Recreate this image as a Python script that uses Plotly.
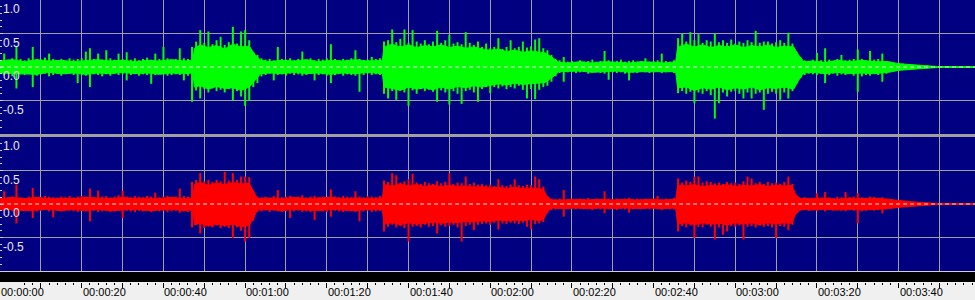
import plotly.graph_objects as go

# ---- data: peak envelope of each channel, one value per second (t = 0 .. 238 s) ----
left_hi = [
    0.10,0.20,0.11,0.13,0.30,0.12,0.10,0.13,0.30,0.12,
    0.11,0.14,0.20,0.12,0.10,0.12,0.09,0.13,0.11,0.12,
    0.13,0.23,0.28,0.12,0.20,0.11,0.25,0.13,0.11,0.20,
    0.12,0.22,0.11,0.13,0.10,0.12,0.14,0.11,0.20,0.12,
    0.30,0.13,0.11,0.12,0.28,0.13,0.12,0.30,0.38,0.55,
    0.36,0.53,0.34,0.40,0.45,0.33,0.37,0.60,0.35,0.53,
    0.55,0.40,0.22,0.18,0.13,0.11,0.12,0.10,0.30,0.12,
    0.11,0.13,0.10,0.12,0.23,0.11,0.13,0.10,0.12,0.11,
    0.13,0.34,0.12,0.10,0.12,0.11,0.13,0.25,0.12,0.10,
    0.11,0.15,0.12,0.13,0.38,0.40,0.56,0.37,0.42,0.56,
    0.36,0.55,0.38,0.35,0.40,0.34,0.38,0.54,0.36,0.40,
    0.48,0.35,0.37,0.34,0.52,0.36,0.33,0.38,0.30,0.35,
    0.28,0.30,0.43,0.27,0.30,0.40,0.28,0.30,0.38,0.29,
    0.31,0.41,0.43,0.28,0.25,0.18,0.12,0.10,0.15,0.08,
    0.09,0.07,0.10,0.08,0.09,0.11,0.08,0.09,0.24,0.10,
    0.08,0.09,0.11,0.08,0.09,0.10,0.08,0.09,0.13,0.08,
    0.09,0.10,0.20,0.09,0.08,0.10,0.43,0.50,0.38,0.52,
    0.40,0.49,0.36,0.40,0.38,0.50,0.37,0.40,0.36,0.41,
    0.35,0.38,0.36,0.40,0.37,0.54,0.36,0.38,0.38,0.35,
    0.37,0.40,0.36,0.51,0.35,0.22,0.14,0.10,0.09,0.11,
    0.21,0.10,0.28,0.11,0.09,0.12,0.18,0.10,0.11,0.12,
    0.26,0.12,0.10,0.24,0.11,0.12,0.20,0.09,0.07,0.06,
    0.06,0.05,0.04,0.035,0.03,0.025,0.02,0.02,0.015,0.01,
    0.008,0.008,0.008,0.008,0.008,0.008,0.008,0.008,0.008,
]
left_lo = [
    -0.09,-0.12,-0.10,-0.14,-0.32,-0.11,-0.12,-0.10,-0.30,-0.13,
    -0.11,-0.10,-0.14,-0.12,-0.10,-0.13,-0.11,-0.10,-0.12,-0.24,
    -0.12,-0.13,-0.30,-0.11,-0.12,-0.14,-0.11,-0.13,-0.10,-0.12,
    -0.11,-0.20,-0.12,-0.10,-0.13,-0.11,-0.12,-0.25,-0.12,-0.10,
    -0.11,-0.13,-0.12,-0.11,-0.12,-0.20,-0.13,-0.52,-0.35,-0.47,
    -0.33,-0.38,-0.32,-0.36,-0.34,-0.38,-0.33,-0.50,-0.36,-0.44,
    -0.58,-0.50,-0.30,-0.24,-0.14,-0.12,-0.10,-0.20,-0.12,-0.11,
    -0.13,-0.10,-0.12,-0.11,-0.13,-0.12,-0.10,-0.20,-0.12,-0.11,
    -0.13,-0.24,-0.12,-0.10,-0.13,-0.11,-0.12,-0.13,-0.37,-0.12,
    -0.10,-0.12,-0.11,-0.12,-0.40,-0.47,-0.36,-0.49,-0.34,-0.38,
    -0.58,-0.35,-0.40,-0.33,-0.36,-0.34,-0.37,-0.52,-0.35,-0.38,
    -0.56,-0.36,-0.40,-0.55,-0.36,-0.34,-0.38,-0.52,-0.33,-0.30,
    -0.39,-0.30,-0.32,-0.29,-0.33,-0.30,-0.32,-0.28,-0.34,-0.47,
    -0.33,-0.48,-0.34,-0.30,-0.28,-0.22,-0.14,-0.09,-0.22,-0.08,
    -0.07,-0.09,-0.08,-0.07,-0.10,-0.08,-0.07,-0.09,-0.10,-0.19,
    -0.08,-0.09,-0.08,-0.10,-0.20,-0.08,-0.09,-0.07,-0.08,-0.09,
    -0.08,-0.07,-0.09,-0.08,-0.07,-0.09,-0.39,-0.36,-0.40,-0.37,
    -0.54,-0.38,-0.40,-0.36,-0.42,-0.77,-0.54,-0.38,-0.44,-0.37,
    -0.36,-0.40,-0.47,-0.38,-0.47,-0.40,-0.38,-0.64,-0.40,-0.37,
    -0.40,-0.49,-0.38,-0.47,-0.36,-0.25,-0.16,-0.12,-0.10,-0.11,
    -0.12,-0.10,-0.24,-0.12,-0.10,-0.13,-0.11,-0.12,-0.10,-0.13,
    -0.37,-0.14,-0.12,-0.13,-0.10,-0.12,-0.22,-0.10,-0.06,-0.05,
    -0.05,-0.04,-0.035,-0.03,-0.025,-0.02,-0.02,-0.015,-0.01,-0.01,
    -0.008,-0.008,-0.008,-0.008,-0.008,-0.008,-0.008,-0.008,-0.008,
]
right_hi = [
    0.09,0.19,0.10,0.11,0.29,0.10,0.09,0.11,0.24,0.10,
    0.10,0.12,0.11,0.10,0.09,0.11,0.10,0.12,0.10,0.11,
    0.12,0.11,0.23,0.10,0.20,0.11,0.12,0.10,0.11,0.13,
    0.20,0.11,0.10,0.12,0.11,0.10,0.12,0.11,0.17,0.10,
    0.11,0.12,0.10,0.11,0.23,0.12,0.11,0.33,0.36,0.46,
    0.34,0.36,0.33,0.36,0.34,0.48,0.35,0.46,0.36,0.41,
    0.41,0.40,0.20,0.11,0.10,0.11,0.09,0.12,0.21,0.10,
    0.11,0.12,0.10,0.11,0.13,0.10,0.11,0.12,0.10,0.11,
    0.10,0.22,0.11,0.10,0.12,0.11,0.10,0.19,0.11,0.10,
    0.12,0.11,0.10,0.12,0.35,0.33,0.46,0.43,0.32,0.34,
    0.37,0.45,0.32,0.30,0.33,0.31,0.30,0.34,0.31,0.33,
    0.46,0.30,0.32,0.31,0.41,0.30,0.32,0.29,0.30,0.28,
    0.29,0.27,0.37,0.28,0.27,0.29,0.37,0.28,0.27,0.29,
    0.28,0.41,0.37,0.26,0.12,0.08,0.07,0.08,0.21,0.07,
    0.08,0.06,0.08,0.07,0.09,0.07,0.08,0.07,0.19,0.08,
    0.07,0.08,0.07,0.08,0.09,0.07,0.08,0.07,0.08,0.07,
    0.08,0.12,0.07,0.08,0.07,0.09,0.38,0.32,0.35,0.33,
    0.41,0.41,0.32,0.34,0.33,0.31,0.32,0.30,0.33,0.31,
    0.32,0.30,0.34,0.41,0.38,0.31,0.33,0.30,0.33,0.31,
    0.32,0.30,0.33,0.41,0.30,0.12,0.09,0.10,0.08,0.09,
    0.16,0.09,0.18,0.10,0.09,0.11,0.10,0.18,0.10,0.11,
    0.16,0.10,0.09,0.11,0.10,0.09,0.10,0.08,0.06,0.05,
    0.05,0.04,0.035,0.03,0.03,0.025,0.02,0.015,0.015,0.01,
    0.008,0.008,0.008,0.008,0.008,0.008,0.008,0.008,0.008,
]
right_lo = [
    -0.08,-0.10,-0.09,-0.11,-0.29,-0.10,-0.09,-0.10,-0.21,-0.11,
    -0.10,-0.09,-0.11,-0.20,-0.10,-0.11,-0.09,-0.10,-0.11,-0.12,
    -0.10,-0.11,-0.26,-0.10,-0.12,-0.11,-0.10,-0.12,-0.11,-0.10,
    -0.21,-0.10,-0.11,-0.12,-0.10,-0.11,-0.09,-0.12,-0.10,-0.11,
    -0.10,-0.12,-0.11,-0.10,-0.13,-0.11,-0.12,-0.35,-0.30,-0.44,
    -0.36,-0.33,-0.35,-0.32,-0.36,-0.34,-0.36,-0.51,-0.35,-0.40,
    -0.56,-0.51,-0.25,-0.12,-0.11,-0.10,-0.12,-0.10,-0.11,-0.12,
    -0.10,-0.21,-0.11,-0.10,-0.12,-0.11,-0.12,-0.24,-0.10,-0.11,
    -0.12,-0.19,-0.10,-0.11,-0.12,-0.10,-0.11,-0.12,-0.26,-0.11,
    -0.10,-0.12,-0.11,-0.10,-0.41,-0.34,-0.31,-0.35,-0.33,-0.36,
    -0.56,-0.34,-0.33,-0.35,-0.31,-0.34,-0.33,-0.44,-0.32,-0.34,
    -0.33,-0.31,-0.35,-0.56,-0.33,-0.31,-0.39,-0.31,-0.30,-0.29,
    -0.31,-0.28,-0.38,-0.29,-0.30,-0.28,-0.29,-0.30,-0.28,-0.34,
    -0.38,-0.30,-0.29,-0.27,-0.13,-0.09,-0.08,-0.07,-0.19,-0.08,
    -0.07,-0.08,-0.07,-0.08,-0.07,-0.09,-0.07,-0.08,-0.14,-0.08,
    -0.07,-0.09,-0.07,-0.08,-0.13,-0.08,-0.07,-0.08,-0.07,-0.08,
    -0.07,-0.08,-0.09,-0.07,-0.08,-0.08,-0.41,-0.33,-0.35,-0.32,
    -0.51,-0.34,-0.35,-0.31,-0.34,-0.53,-0.35,-0.46,-0.41,-0.33,
    -0.34,-0.32,-0.53,-0.34,-0.33,-0.35,-0.32,-0.34,-0.33,-0.35,
    -0.51,-0.33,-0.34,-0.39,-0.31,-0.14,-0.10,-0.09,-0.10,-0.09,
    -0.10,-0.09,-0.11,-0.09,-0.10,-0.09,-0.10,-0.11,-0.09,-0.10,
    -0.29,-0.11,-0.10,-0.09,-0.10,-0.09,-0.14,-0.08,-0.06,-0.05,
    -0.05,-0.04,-0.035,-0.03,-0.025,-0.02,-0.02,-0.015,-0.01,-0.01,
    -0.008,-0.008,-0.008,-0.008,-0.008,-0.008,-0.008,-0.008,-0.008,
]
for arr in (left_hi, left_lo, right_hi, right_lo):
    assert len(arr) == 239, len(arr)

# ---- dense body (core) of each channel, read at breakpoints: (seconds, upper, lower) ----
left_core = [
    (0, 0.09, -0.09), (3, 0.11, -0.10), (6, 0.08, -0.10), (9, 0.11, -0.11), (12, 0.09, -0.08),
    (15, 0.10, -0.10), (18, 0.08, -0.09), (21, 0.10, -0.11), (24, 0.11, -0.09), (27, 0.09, -0.10),
    (30, 0.10, -0.08), (33, 0.08, -0.10), (36, 0.10, -0.09), (39, 0.09, -0.11), (42, 0.11, -0.09),
    (45, 0.09, -0.10), (47.2, 0.10, -0.09),
    (47.6, 0.28, -0.30), (49, 0.33, -0.28), (51, 0.29, -0.33), (53, 0.32, -0.29), (55, 0.27, -0.32),
    (57, 0.34, -0.31), (59, 0.30, -0.35), (61, 0.31, -0.30), (62.5, 0.18, -0.20), (63.8, 0.10, -0.10),
    (66, 0.08, -0.09), (69, 0.10, -0.10), (72, 0.09, -0.08), (75, 0.11, -0.10), (78, 0.08, -0.09),
    (81, 0.10, -0.11), (84, 0.09, -0.09), (87, 0.11, -0.10), (90, 0.09, -0.08), (93.6, 0.10, -0.10),
    (94, 0.30, -0.30), (96, 0.34, -0.32), (98, 0.30, -0.35), (100, 0.33, -0.30), (102, 0.29, -0.33),
    (104, 0.32, -0.31), (106, 0.30, -0.34), (108, 0.33, -0.30), (110, 0.29, -0.33), (112, 0.31, -0.29),
    (114, 0.28, -0.31), (116, 0.30, -0.28), (118, 0.27, -0.30), (120, 0.25, -0.27), (122, 0.27, -0.25),
    (124, 0.23, -0.27), (126, 0.25, -0.24), (128, 0.22, -0.26), (130, 0.24, -0.25), (132, 0.22, -0.24),
    (133.5, 0.21, -0.23), (135.5, 0.13, -0.14), (136.8, 0.07, -0.07),
    (139, 0.06, -0.07), (142, 0.08, -0.06), (145, 0.06, -0.08), (148, 0.08, -0.07), (151, 0.07, -0.06),
    (154, 0.06, -0.08), (157, 0.08, -0.07), (160, 0.07, -0.06), (163, 0.06, -0.07), (165.4, 0.08, -0.07),
    (165.9, 0.30, -0.31), (168, 0.34, -0.30), (170, 0.30, -0.35), (172, 0.33, -0.31), (174, 0.29, -0.33),
    (176, 0.32, -0.30), (178, 0.30, -0.34), (180, 0.33, -0.31), (182, 0.29, -0.33), (184, 0.32, -0.30),
    (186, 0.30, -0.34), (188, 0.33, -0.31), (190, 0.29, -0.32), (192, 0.31, -0.30), (194.3, 0.30, -0.33),
    (195.5, 0.18, -0.20), (196.8, 0.08, -0.09),
    (199, 0.09, -0.08), (202, 0.07, -0.10), (205, 0.10, -0.08), (208, 0.08, -0.10), (211, 0.10, -0.09),
    (214, 0.08, -0.10), (217.5, 0.08, -0.08),
    (220, 0.05, -0.05), (222, 0.04, -0.04), (224, 0.03, -0.03), (226, 0.02, -0.02),
    (229.5, 0.007, -0.007), (238.7, 0.006, -0.006),
]
right_core = [
    (0, 0.08, -0.09), (3, 0.10, -0.08), (6, 0.08, -0.10), (9, 0.10, -0.09), (12, 0.08, -0.08),
    (15, 0.09, -0.10), (18, 0.08, -0.08), (21, 0.10, -0.10), (24, 0.09, -0.08), (27, 0.08, -0.10),
    (30, 0.10, -0.09), (33, 0.08, -0.08), (36, 0.09, -0.10), (39, 0.08, -0.09), (42, 0.10, -0.08),
    (45, 0.08, -0.10), (47.2, 0.09, -0.09),
    (47.6, 0.29, -0.31), (49, 0.32, -0.29), (51, 0.28, -0.33), (53, 0.31, -0.30), (55, 0.29, -0.32),
    (57, 0.32, -0.30), (59, 0.30, -0.34), (61, 0.31, -0.32), (62.0, 0.20, -0.22), (63.0, 0.08, -0.09),
    (66, 0.09, -0.08), (69, 0.08, -0.10), (72, 0.10, -0.08), (75, 0.08, -0.09), (78, 0.09, -0.10),
    (81, 0.10, -0.08), (84, 0.08, -0.09), (87, 0.09, -0.10), (90, 0.08, -0.08), (93.6, 0.09, -0.09),
    (94, 0.29, -0.30), (96, 0.27, -0.28), (98, 0.30, -0.31), (100, 0.27, -0.28), (102, 0.29, -0.30),
    (104, 0.26, -0.29), (106, 0.28, -0.27), (108, 0.26, -0.29), (110, 0.28, -0.27), (112, 0.26, -0.28),
    (114, 0.27, -0.26), (116, 0.25, -0.27), (118, 0.26, -0.25), (120, 0.24, -0.26), (122, 0.25, -0.24),
    (124, 0.23, -0.25), (126, 0.25, -0.24), (128, 0.23, -0.25), (130, 0.24, -0.23), (132, 0.23, -0.25),
    (133.0, 0.22, -0.23), (134.0, 0.11, -0.12), (135.0, 0.06, -0.06),
    (138, 0.06, -0.07), (141, 0.07, -0.06), (144, 0.06, -0.07), (147, 0.07, -0.06), (150, 0.06, -0.07),
    (153, 0.07, -0.06), (156, 0.06, -0.07), (159, 0.07, -0.06), (162, 0.06, -0.07), (165.4, 0.07, -0.06),
    (165.9, 0.28, -0.30), (168, 0.27, -0.28), (170, 0.29, -0.31), (172, 0.26, -0.28), (174, 0.28, -0.30),
    (176, 0.27, -0.29), (178, 0.29, -0.31), (180, 0.26, -0.28), (182, 0.28, -0.30), (184, 0.27, -0.28),
    (186, 0.29, -0.31), (188, 0.26, -0.28), (190, 0.28, -0.30), (192, 0.27, -0.28), (193.8, 0.28, -0.29),
    (194.8, 0.14, -0.15), (196.0, 0.08, -0.08),
    (199, 0.08, -0.09), (202, 0.09, -0.08), (205, 0.07, -0.09), (208, 0.09, -0.08), (211, 0.08, -0.09),
    (214, 0.09, -0.08), (217.5, 0.07, -0.07),
    (220, 0.05, -0.05), (222, 0.04, -0.04), (224, 0.03, -0.03), (226, 0.02, -0.02),
    (229.5, 0.007, -0.007), (238.7, 0.006, -0.006),
]

sample_step = 1.0  # seconds per envelope value
time_label_secs = [0, 20, 40, 60, 80, 100, 120, 140, 160, 180, 200, 220]
time_labels = ["00:00:00", "00:00:20", "00:00:40", "00:01:00", "00:01:20", "00:01:40",
               "00:02:00", "00:02:20", "00:02:40", "00:03:00", "00:03:20", "00:03:40"]
amp_ticks = [-1.0, -0.5, 0.0, 0.5, 1.0]
amp_labels = ["", "-0.5", "0.0", "0.5", "1.0"]

t = [i * sample_step for i in range(len(left_hi))]
view_end = 238.7
grid_vals = [10 * k for k in range(0, 24)]

NAVY = "#000080"
GRID = "#a0a0a0"

fig = go.Figure()

def channel(hi, lo, core, color, xa, ya):
    ct = [c[0] for c in core]
    chi = [c[1] for c in core]
    clo = [c[2] for c in core]
    fig.add_trace(go.Scatter(
        x=ct + ct[::-1], y=chi + clo[::-1], fill="toself", fillcolor=color,
        mode="lines", line=dict(color=color, width=1),
        xaxis=xa, yaxis=ya, hoverinfo="skip", showlegend=False))
    nx, ny = [], []
    for ti, h, l in zip(t, hi, lo):
        nx += [ti, ti, None]
        ny += [l, h, None]
    fig.add_trace(go.Scatter(
        x=nx, y=ny, mode="lines", line=dict(color=color, width=2),
        xaxis=xa, yaxis=ya, hoverinfo="skip", showlegend=False))
    fig.add_trace(go.Scatter(
        x=[0, view_end], y=[0, 0], mode="lines",
        line=dict(color="#e0e0e0", width=1, dash="4px,3px"),
        xaxis=xa, yaxis=ya, hoverinfo="skip", showlegend=False))

channel(left_hi, left_lo, left_core, "#00ff00", "x", "y")
channel(right_hi, right_lo, right_core, "#ff0000", "x2", "y2")

yax = dict(
    range=[-1, 1], tickmode="array", tickvals=amp_ticks, ticktext=amp_labels,
    ticklabelposition="inside bottom", ticks="inside", ticklen=3, tickcolor="#d0d0d0",
    tickfont=dict(family="Liberation Sans", size=12, color="#e8e8e8"),
    showgrid=True, gridcolor=GRID, gridwidth=1, zeroline=False, showline=False,
    minor=dict(tickmode="linear", tick0=0, dtick=0.1, ticks="inside", ticklen=2,
               tickcolor="#d0d0d0", showgrid=False),
    fixedrange=True,
)
xgrid = dict(range=[-0.02, view_end], tickmode="array", tickvals=grid_vals,
             showgrid=True, gridcolor=GRID, gridwidth=1, zeroline=False,
             showline=False, fixedrange=True, showticklabels=False)

annotations = [
    dict(x=s, y=0, xref="x2", yref="paper", text=lab, showarrow=False,
         xanchor="left", yanchor="bottom", xshift=-1, yshift=0,
         font=dict(family="Liberation Sans", size=11, color="black"))
    for s, lab in zip(time_label_secs, time_labels)
]

fig.update_layout(
    width=975, height=300, margin=dict(l=0, r=0, t=0, b=0),
    paper_bgcolor="#f0f0f0", plot_bgcolor=NAVY, showlegend=False,
    xaxis=dict(**xgrid, domain=[0, 1], anchor="y", ticks=""),
    yaxis=dict(**yax, domain=[1 - 134 / 300, 1], anchor="x"),
    xaxis2=dict(**xgrid, domain=[0, 1], anchor="free", position=18 / 300,
                ticks="outside", ticklen=5, tickcolor="black",
                minor=dict(tickmode="linear", tick0=0, dtick=2, ticks="outside",
                           ticklen=2, tickcolor="black", showgrid=False)),
    yaxis2=dict(**yax, domain=[1 - 271 / 300, 1 - 137 / 300], anchor="x2"),
    annotations=annotations,
    shapes=[
        dict(type="rect", xref="paper", yref="paper", x0=0, x1=1,
             y0=1 - 137 / 300, y1=1 - 134 / 300, fillcolor="#a0a0a0",
             line=dict(width=0), layer="below"),
        dict(type="rect", xref="paper", yref="paper", x0=0, x1=1,
             y0=1 - 272 / 300, y1=1 - 271 / 300, fillcolor="#d0d0d0",
             line=dict(width=0), layer="below"),
        dict(type="rect", xref="paper", yref="paper", x0=0, x1=1,
             y0=18 / 300, y1=1 - 272 / 300, fillcolor="#000000",
             line=dict(width=0), layer="below"),
    ],
)

fig.write_html("out.html")
